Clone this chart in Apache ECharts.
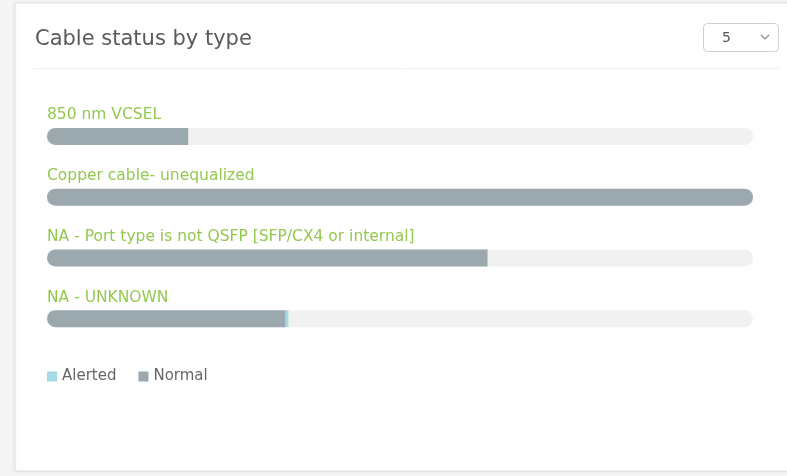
<!DOCTYPE html>
<html>
<head>
<meta charset="utf-8">
<script src="https://cdn.jsdelivr.net/npm/echarts@6/dist/echarts.min.js"></script>
<style>
html,body{margin:0;padding:0;background:#f5f5f5;}
#chart{width:787px;height:476px;}
</style>
</head>
<body>
<div id="chart"></div>
<script>
const titleText = 'Cable status by type';
const categories = ['850 nm VCSEL', 'Copper cable- unequalized', 'NA - Port type is not QSFP [SFP/CX4 or internal]', 'NA - UNKNOWN'];
const normalValues = [20, 100, 62.4, 33.8];
const alertedValues = [0, 0, 0, 0.4];
const seriesNames = ['Alerted', 'Normal'];
const dropdownValue = '5';

const axisMax = Math.max(...normalValues.map((v, i) => v + alertedValues[i]));
const R = 9;
const FONT = 'DejaVu Sans';

const chart = echarts.init(document.getElementById('chart'));
chart.setOption({
  backgroundColor: '#f5f5f5',
  animation: false,
  textStyle: { fontFamily: FONT },
  title: {
    text: titleText, left: 30, top: 24,
    textStyle: { fontFamily: FONT, fontSize: 21, fontWeight: 'normal', color: '#5a5a5a' }
  },
  graphic: [
    { type: 'rect', z: -10, shape: { x: 15, y: 3, width: 800, height: 468 },
      style: { fill: '#fff', stroke: '#e2e2e2', lineWidth: 1, shadowBlur: 4, shadowColor: 'rgba(0,0,0,0.08)' } },
    { type: 'line', z: -5, shape: { x1: 33, y1: 68.5, x2: 780, y2: 68.5 }, style: { stroke: '#f0f0f0', lineWidth: 1 } },
    { type: 'rect', shape: { x: 703.5, y: 23.5, width: 75, height: 28, r: 4 }, style: { fill: '#fff', stroke: '#d0d0d0', lineWidth: 1 } },
    { type: 'text', x: 722, y: 38, style: { text: dropdownValue, fill: '#555', font: '14px "DejaVu Sans"', verticalAlign: 'middle' } },
    { type: 'polyline', shape: { points: [[761, 35], [765, 39], [769, 35]] }, style: { stroke: '#888', lineWidth: 1.2, fill: null } }
  ],
  legend: {
    left: 42, top: 364, itemWidth: 10, itemHeight: 10, itemGap: 22, icon: 'rect',
    data: seriesNames,
    textStyle: { fontFamily: FONT, fontSize: 15, color: '#666' }
  },
  grid: { left: 47, right: 34, top: 106, bottom: 127 },
  xAxis: { type: 'value', min: 0, max: axisMax, show: false },
  yAxis: {
    type: 'category', inverse: true, data: categories,
    axisLine: { show: false }, axisTick: { show: false },
    axisLabel: {
      inside: true, margin: 0, align: 'left', verticalAlign: 'bottom',
      padding: [0, 0, 13, 0], fontFamily: FONT, fontSize: 15.5, color: '#93c94e'
    }
  },
  series: [
    {
      name: 'Normal', type: 'bar', stack: 'a', barWidth: 17,
      showBackground: true,
      backgroundStyle: { color: '#f1f1f1', borderRadius: R },
      itemStyle: { color: '#9ba9af' },
      data: normalValues.map((v, i) => ({
        value: v,
        itemStyle: { borderRadius: (v + alertedValues[i] >= axisMax && alertedValues[i] === 0) ? R : [R, 0, 0, R] }
      }))
    },
    {
      name: 'Alerted', type: 'bar', stack: 'a', barWidth: 17,
      itemStyle: { color: '#a6d9e3' },
      data: alertedValues
    }
  ]
});
</script>
</body>
</html>
